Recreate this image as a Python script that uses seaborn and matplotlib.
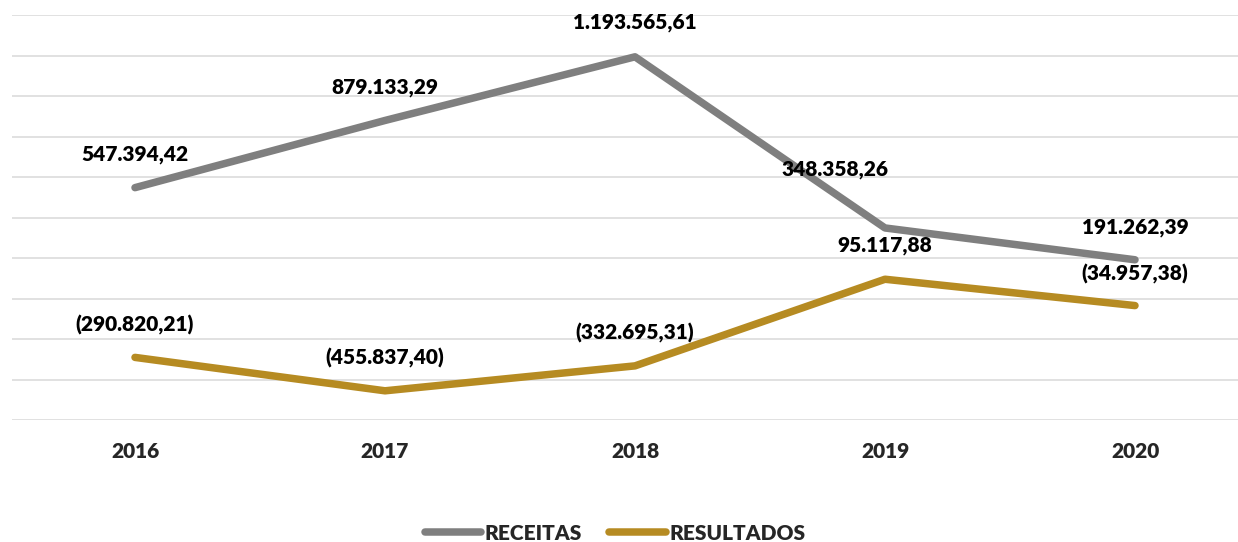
import matplotlib
matplotlib.use("Agg")
import matplotlib.pyplot as plt
import pandas as pd
import seaborn as sns

anos = ["2016", "2017", "2018", "2019", "2020"]
receitas = [547394.42, 879133.29, 1193565.61, 348358.26, 191262.39]
resultados = [-290820.21, -455837.40, -332695.31, 95117.88, -34957.38]
series = ["RECEITAS", "RESULTADOS"]
cores = {"RECEITAS": "#7F7F7F", "RESULTADOS": "#B68B22"}

PESO = "heavy"


def fmt_br(v):
    """Formato brasileiro, negativos entre parenteses."""
    s = f"{abs(v):,.2f}".replace(",", "X").replace(".", ",").replace("X", ".")
    return f"({s})" if v < 0 else s


df = pd.DataFrame({
    "ano": anos * 2,
    "valor": receitas + resultados,
    "serie": [series[0]] * len(anos) + [series[1]] * len(anos),
})

sns.set_theme(style="whitegrid")
plt.rcParams["font.family"] = ["Lato", "DejaVu Sans"]
plt.rcParams["font.weight"] = PESO

fig = plt.figure(figsize=(12.38, 5.42), dpi=100)
ax = fig.add_axes([12 / 1238, 122 / 542, 1 - 12 / 1238, 405 / 542])

sns.lineplot(data=df, x="ano", y="valor", hue="serie", palette=cores,
             linewidth=5.4, ax=ax, legend=False)
for ln in ax.lines:
    ln.set_solid_capstyle("round")
    ln.set_solid_joinstyle("round")

ax.set_xlim(-0.492, 4.412)
ax.set_ylim(-600000, 1400000)
ax.set_yticks(range(-600000, 1400001, 200000))
ax.set_yticklabels([])
ax.grid(axis="y", color="#D9D9D9", linewidth=1.1)
ax.grid(axis="x", visible=False)
for sp in ax.spines.values():
    sp.set_visible(False)
ax.set_xlabel("")
ax.set_ylabel("")
ax.tick_params(axis="x", length=0, pad=16, labelsize=15)
ax.tick_params(axis="y", length=0)
for t in ax.get_xticklabels():
    t.set_fontweight(PESO)

# rotulos de dados
offsets_rec = [(0, 24), (0, 24), (0, 25), (-36, 42), (0, 23)]
offsets_res = [(0, 23), (0, 24), (0, 24), (0, 24), (0, 23)]
for i, (v, off) in enumerate(zip(receitas, offsets_rec)):
    ax.annotate(fmt_br(v), (i, v), xytext=off, textcoords="offset points",
                ha="center", va="center", fontsize=15, fontweight=PESO, color="black")
for i, (v, off) in enumerate(zip(resultados, offsets_res)):
    ax.annotate(fmt_br(v), (i, v), xytext=off, textcoords="offset points",
                ha="center", va="center", fontsize=15, fontweight=PESO, color="black")

handles = [plt.Line2D([], [], color=cores[s], linewidth=5.4, solid_capstyle="round") for s in series]
fig.legend(handles, series, loc="center", bbox_to_anchor=(0.497, 9 / 542), ncol=2,
           frameon=False, handlelength=2.7, handletextpad=0.2,
           columnspacing=1.3, prop={"weight": PESO, "size": 15})

fig.savefig("out.png", dpi=100)
